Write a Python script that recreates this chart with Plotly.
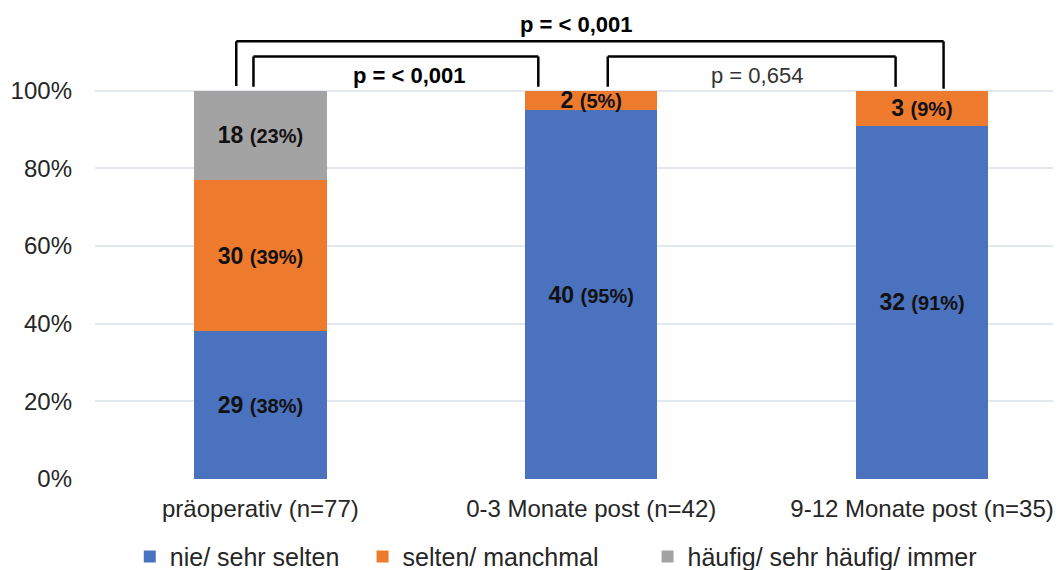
import plotly.graph_objects as go

categories = ["präoperativ (n=77)", "0-3 Monate post (n=42)", "9-12 Monate post (n=35)"]
series_names = ["nie/ sehr selten", "selten/ manchmal", "häufig/ sehr häufig/ immer"]
counts = [
    [29, 40, 32],
    [30, 2, 3],
    [18, None, None],
]
percents = [
    [38, 95, 91],
    [39, 5, 9],
    [23, None, None],
]
colors = ["#4b72be", "#ee7a2e", "#a3a3a3"]
y_ticks = [0, 0.2, 0.4, 0.6, 0.8, 1.0]
y_tick_labels = ["0%", "20%", "40%", "60%", "80%", "100%"]

FONT = "Liberation Sans, Arial"
fig = go.Figure()
xpos = list(range(len(categories)))
legend_ids = ["legend", "legend2", "legend3"]
for name, c, p, col, lg in zip(series_names, counts, percents, colors, legend_ids):
    yv = [None if v is None else v / 100 for v in p]
    txt = ["" if v is None else f"<b>{v}</b> <span style='font-size:20px'><b>({q}%)</b></span>"
           for v, q in zip(c, p)]
    fig.add_trace(go.Bar(
        x=xpos, y=yv, name=name, width=0.4, legend=lg,
        marker=dict(color=col, line=dict(width=0)),
        text=txt, texttemplate="%{text}", textposition="inside",
        insidetextanchor="middle", textangle=0, constraintext="none",
        textfont=dict(family=FONT, size=23, color="#111111"),
        hoverinfo="skip",
    ))

# significance brackets
line = dict(color="black", width=2.5)
def bracket(x0, x1, ytop, yl, yr):
    fig.add_shape(type="line", x0=x0, x1=x0, y0=yl, y1=ytop, line=line, xref="x", yref="y")
    fig.add_shape(type="line", x0=x0, x1=x1, y0=ytop, y1=ytop, line=line, xref="x", yref="y")
    fig.add_shape(type="line", x0=x1, x1=x1, y0=ytop, y1=yr, line=line, xref="x", yref="y")

bracket(-0.073, 2.065, 1.127, 1.012, 1.005)
bracket(-0.021, 0.84, 1.088, 1.010, 1.010)
bracket(1.05, 1.92, 1.088, 1.010, 1.010)

fig.add_annotation(x=0.955, y=1.17, text="<b>p = < 0,001</b>", showarrow=False,
                   font=dict(family=FONT, size=22, color="black"))
fig.add_annotation(x=0.45, y=1.04, text="<b>p = < 0,001</b>", showarrow=False,
                   font=dict(family=FONT, size=22, color="black"))
fig.add_annotation(x=1.50, y=1.04, text="p = 0,654", showarrow=False,
                   font=dict(family=FONT, size=22, color="#333333"))

leg_common = dict(orientation="h", y=-0.167, xanchor="left", yanchor="middle",
                  font=dict(size=25, color="#262626"), itemwidth=30,
                  bgcolor="rgba(0,0,0,0)")
fig.update_layout(
    barmode="stack",
    width=1053, height=562,
    margin=dict(l=87, r=0, t=5, b=91, autoexpand=False),
    paper_bgcolor="white", plot_bgcolor="white",
    font=dict(family=FONT, color="#262626"),
    showlegend=True,
    legend=dict(x=0.036, **leg_common),
    legend2=dict(x=0.277, **leg_common),
    legend3=dict(x=0.572, **leg_common),
    xaxis=dict(range=[-0.5, 2.42], tickvals=xpos, ticktext=categories,
               tickfont=dict(size=24, color="#262626"), showgrid=False,
               zeroline=False, showline=False, ticklabelstandoff=13, automargin=False),
    yaxis=dict(range=[0, 1.2], tickvals=y_ticks, ticktext=y_tick_labels,
               tickfont=dict(size=24, color="#262626"), showgrid=True,
               gridcolor="#e3e8ee", gridwidth=1.5, zeroline=False, showline=False,
               ticklabelstandoff=22, automargin=False),
)

fig.write_html("out.html")
